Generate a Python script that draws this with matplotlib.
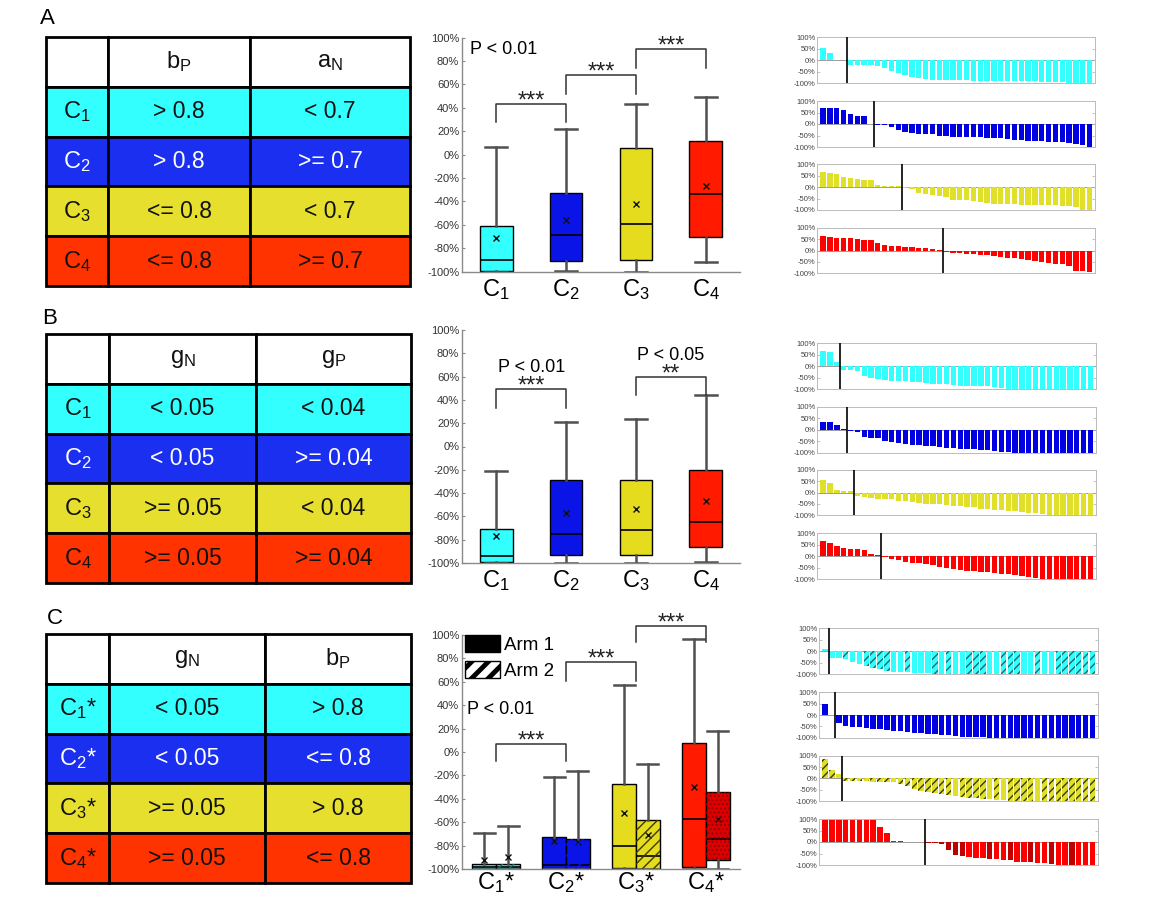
import numpy as np
import matplotlib
matplotlib.use('Agg')
import matplotlib.pyplot as plt
from matplotlib.patches import Rectangle, Patch, PathPatch

plt.rcParams['font.family'] = ['Liberation Sans', 'DejaVu Sans']
plt.rcParams['mathtext.fontset'] = 'custom'
plt.rcParams['mathtext.rm'] = 'Liberation Sans'
plt.rcParams['mathtext.it'] = 'Liberation Sans'
plt.rcParams['mathtext.default'] = 'regular'
plt.rcParams['hatch.linewidth'] = 1.0

# ---------------- data ----------------
table_colors = ['#33ffff', '#1a2ff0', '#e6df2e', '#ff3300']
box_colors = ['#33ffff', '#0a14e6', '#e6dc1e', '#ff1a00']
wf_colors = ['#33ffff', '#0000e0', '#e0e02a', '#ff0000']
row_text_colors = ['#111111', 'white', '#111111', '#111111']

headers_A = ['$b_P$', '$a_N$']
labels_A = ['$C_1$', '$C_2$', '$C_3$', '$C_4$']
cells_A = [['> 0.8', '< 0.7'], ['> 0.8', '>= 0.7'], ['<= 0.8', '< 0.7'], ['<= 0.8', '>= 0.7']]

headers_B = ['$g_N$', '$g_P$']
labels_B = ['$C_1$', '$C_2$', '$C_3$', '$C_4$']
cells_B = [['< 0.05', '< 0.04'], ['< 0.05', '>= 0.04'], ['>= 0.05', '< 0.04'], ['>= 0.05', '>= 0.04']]

headers_C = ['$g_N$', '$b_P$']
labels_C = ['$C_1$*', '$C_2$*', '$C_3$*', '$C_4$*']
cells_C = [['< 0.05', '> 0.8'], ['< 0.05', '<= 0.8'], ['>= 0.05', '> 0.8'], ['>= 0.05', '<= 0.8']]

# box plot summaries (percent change)
A_low = [-100, -99, -100, -92]
A_q1 = [-99, -91, -90, -70]
A_med = [-90, -69, -59, -34]
A_q3 = [-61, -33, 6, 12]
A_high = [7, 22, 43, 49]
A_mean = [-71, -56, -42, -27]

B_low = [-100, -100, -100, -99]
B_q1 = [-99, -93, -93, -86]
B_med = [-94, -75, -72, -65]
B_q3 = [-71, -29, -29, -20]
B_high = [-21, 21, 24, 44]
B_mean = [-77, -57, -54, -47]

# arm 1 / arm 2 for panel C
C1_low = [-100, -100, -100, -100]
C1_q1 = [-100, -100, -99, -98]
C1_med = [-98, -97, -80, -57]
C1_q3 = [-96, -73, -27, 8]
C1_high = [-69, -21, 57, 97]
C1_mean = [-92, -76, -52, -30]

C2_low = [-100, -100, -100, -100]
C2_q1 = [-100, -100, -100, -92]
C2_med = [-98, -97, -89, -74]
C2_q3 = [-96, -74, -58, -34]
C2_high = [-63, -16, -10, 18]
C2_mean = [-90, -77, -71, -57]

# significance brackets: (left group, right group, top, left leg end, right leg end, stars)
sig_A = [(1, 2, 43, 28, 28, '***'), (2, 3, 68, 52, 52, '***'), (3, 4, 90, 74, 74, '***')]
sig_B = [(1, 2, 49, 33, 33, '***'), (3, 4, 60, 44, 44, '**')]
sig_C = [(1, 2, 7, -8, -8, '***'), (2, 3, 77, 61, 61, '***'), (3, 4, 108, 94, 94, '***')]

# waterfall series (best response per patient, %)
wf_A = [
    [55, 30, 2, 1, -20, -20, -20, -22, -25, -35, -45, -55, -65, -72, -78, -82, -85, -85, -85, -85,
     -85, -85, -88, -88, -88, -88, -90, -90, -90, -92, -92, -92, -95, -95, -95, -95, -98, -98, -100, -100],
    [70, 70, 68, 60, 45, 33, 33, 1, -5, -5, -15, -28, -33, -40, -42, -42, -45, -50, -52, -55,
     -55, -56, -57, -58, -60, -62, -63, -65, -68, -70, -72, -75, -75, -78, -78, -80, -82, -85, -90, -98],
    [65, 62, 58, 45, 40, 35, 30, 30, 8, 7, 6, 4, -3, -8, -25, -28, -35, -40, -42, -55,
     -55, -58, -60, -65, -70, -72, -75, -75, -75, -78, -78, -78, -80, -80, -80, -82, -82, -85, -100, -100],
    [62, 58, 55, 55, 55, 52, 48, 45, 35, 25, 20, 18, 15, 15, 12, 10, 6, 3, -8, -10,
     -12, -15, -15, -18, -20, -25, -30, -32, -35, -38, -42, -45, -50, -55, -58, -60, -70, -88, -92, -95],
]
wf_B = [
    [65, 62, 20, -15, -15, -20, -40, -50, -55, -60, -62, -62, -65, -68, -70, -72, -75, -75, -78, -80,
     -85, -85, -85, -85, -85, -90, -95, -100, -100, -100, -100, -100, -100, -100, -100, -100, -100, -100, -100, -100],
    [32, 32, 22, 5, -5, -12, -30, -35, -35, -50, -55, -58, -60, -65, -68, -70, -72, -75, -78, -80,
     -82, -85, -85, -88, -90, -92, -95, -98, -100, -100, -100, -100, -100, -100, -100, -100, -100, -100, -100, -100],
    [58, 42, 12, 8, 8, -15, -20, -25, -28, -30, -30, -35, -38, -40, -45, -48, -50, -52, -55, -58,
     -60, -62, -65, -70, -72, -75, -78, -80, -82, -85, -88, -90, -95, -100, -100, -100, -100, -100, -100, -100],
    [65, 60, 45, 35, 33, 30, 28, 8, 5, -5, -10, -15, -25, -28, -30, -35, -38, -45, -50, -55,
     -60, -62, -65, -68, -70, -72, -75, -78, -80, -85, -90, -95, -100, -100, -100, -100, -100, -100, -100, -100],
]
wf_C = [
    [8, -30, -30, -35, -45, -55, -65, -72, -78, -85, -88, -90, -92, -95, -95, -95, -97, -97, -98, -98,
     -100, -100, -100, -100, -100, -100, -100, -100, -100, -100, -100, -100, -100, -100, -100, -100, -100, -100, -100, -100],
    [50, 2, -35, -50, -52, -55, -58, -60, -62, -68, -70, -72, -75, -78, -80, -82, -85, -88, -90, -92,
     -95, -95, -98, -98, -100, -100, -100, -100, -100, -100, -100, -100, -100, -100, -100, -100, -100, -100, -100, -100],
    [85, 35, 20, -10, -12, -12, -12, -15, -15, -15, -18, -25, -35, -45, -55, -62, -65, -70, -75, -80,
     -82, -85, -88, -90, -92, -95, -95, -98, -98, -100, -100, -100, -100, -100, -100, -100, -100, -100, -100, -100],
    [100, 100, 100, 100, 100, 100, 100, 100, 65, 38, 5, 3, 2, 1, 1, -3, -5, -8, -35, -55,
     -60, -65, -68, -70, -72, -75, -78, -80, -85, -88, -88, -90, -92, -95, -98, -100, -100, -100, -100, -100],
]
# indices of arm 2 patients in panel C waterfalls
arm2_C = [
    [3, 6, 7, 8, 9, 12, 16, 18, 21, 22, 23, 26, 27, 28, 31, 34, 35, 36, 37, 38, 39],
    [],
    [0, 1, 3, 4, 5, 6, 7, 8, 9, 11, 12, 13, 14, 15, 16, 17, 18, 20, 21, 22, 23, 25, 27, 28, 29, 30,
     32, 33, 34, 35, 36, 37, 38, 39],
    [15, 16, 17, 18, 19, 20, 24, 27, 30, 33, 36],
]

yticks_box = np.arange(-100, 101, 20)
yticks_wf = [-100, -50, 0, 50, 100]

# ---------------- figure ----------------
W, H = 1158, 900
fig = plt.figure(figsize=(W / 100, H / 100), dpi=100)


def px_axes(x0, y0, x1, y1):
    return fig.add_axes([x0 / W, 1 - y1 / H, (x1 - x0) / W, (y1 - y0) / H])


def draw_table(rect, col_edges, headers, labels, cells):
    ax = px_axes(*rect)
    ax.set_xlim(0, 1)
    ax.set_ylim(5, 0)
    ax.axis('off')
    for r in range(5):
        for c in range(3):
            fc = 'white' if r == 0 else table_colors[r - 1]
            ax.add_patch(Rectangle((col_edges[c], r), col_edges[c + 1] - col_edges[c], 1,
                                   facecolor=fc, edgecolor='black', lw=2, clip_on=False))
            xc = (col_edges[c] + col_edges[c + 1]) / 2
            if r == 0:
                txt = '' if c == 0 else headers[c - 1]
                col = '#111111'
            else:
                txt = labels[r - 1] if c == 0 else cells[r - 1][c - 1]
                col = row_text_colors[r - 1]
            fs = 17 if (c == 0 or r == 0) else 16.5
            ax.text(xc, r + 0.5, txt, ha='center', va='center', fontsize=fs, color=col)


draw_table((46, 37, 410, 286), [0, 0.170, 0.561, 1], headers_A, labels_A, cells_A)
draw_table((46, 334, 411, 583), [0, 0.173, 0.575, 1], headers_B, labels_B, cells_B)
draw_table((46, 634, 411, 883), [0, 0.173, 0.601, 1], headers_C, labels_C, cells_C)

fig.text(47 / W, 1 - 19 / H, 'A', ha='center', va='center', fontsize=16)
fig.text(50 / W, 1 - 318 / H, 'B', ha='center', va='center', fontsize=16)
fig.text(55 / W, 1 - 618 / H, 'C', ha='center', va='center', fontsize=16)


def style_box_axes(ax, xlabels, pad=4):
    ax.set_xlim(0.51, 4.49)
    ax.set_ylim(-100, 100)
    for s in ['top', 'right']:
        ax.spines[s].set_visible(False)
    for s in ['left', 'bottom']:
        ax.spines[s].set_color('#8a8a8a')
        ax.spines[s].set_linewidth(1.0)
    ax.set_yticks(yticks_box)
    ax.set_yticklabels([f'{v}%' for v in yticks_box])
    ax.tick_params(axis='y', direction='in', length=2, labelsize=8, colors='#8a8a8a',
                   labelcolor='#333333', pad=2)
    ax.set_xticks([1, 2, 3, 4])
    ax.set_xticklabels(xlabels)
    ax.tick_params(axis='x', length=0, labelsize=17, pad=pad)


def draw_sig(ax, sig):
    for x1, x2, top, l1, l2, stars in sig:
        ax.plot([x1, x1, x2, x2], [l1, top, top, l2], color='#333333', lw=1.1, clip_on=False)
        ax.text((x1 + x2) / 2, top - 3, stars, ha='center', va='baseline', fontsize=17,
                color='#222222', clip_on=False)


def make_stats(low, q1, med, q3, high, mean):
    return [dict(whislo=a, q1=b, med=c, q3=d, whishi=e, mean=f, fliers=[])
            for a, b, c, d, e, f in zip(low, q1, med, q3, high, mean)]


box_kw = dict(patch_artist=True, showmeans=True, showfliers=False,
              boxprops=dict(edgecolor='black', lw=1),
              medianprops=dict(color='black', lw=1.2),
              whiskerprops=dict(color='#505050', lw=1.8),
              capprops=dict(color='#505050', lw=1.8),
              meanprops=dict(marker='x', markeredgecolor='#111111', markersize=4.5, markeredgewidth=1.0))

positions = np.array([1, 2, 3, 4])

# box A
axA = px_axes(462, 37.7, 740, 271.7)
bp = axA.bxp(make_stats(A_low, A_q1, A_med, A_q3, A_high, A_mean), positions=positions,
             widths=0.47, capwidths=0.32, **box_kw)
for b, c in zip(bp['boxes'], box_colors):
    b.set_facecolor(c)
style_box_axes(axA, labels_A)
draw_sig(axA, sig_A)
axA.text(0.62, 90, 'P < 0.01', ha='left', va='center', fontsize=13)

# box B
axB = px_axes(462, 330, 740, 563)
bp = axB.bxp(make_stats(B_low, B_q1, B_med, B_q3, B_high, B_mean), positions=positions,
             widths=0.47, capwidths=0.32, **box_kw)
for b, c in zip(bp['boxes'], box_colors):
    b.set_facecolor(c)
style_box_axes(axB, labels_B)
draw_sig(axB, sig_B)
axB.text(1.5, 68, 'P < 0.01', ha='center', va='center', fontsize=13)
axB.text(3.5, 78, 'P < 0.05', ha='center', va='center', fontsize=13)

# box C (two arms)
axC = px_axes(462, 635, 740, 869)
off = 0.17
bp1 = axC.bxp(make_stats(C1_low, C1_q1, C1_med, C1_q3, C1_high, C1_mean), positions=positions - off,
              widths=0.34, capwidths=0.3, **box_kw)
bp2 = axC.bxp(make_stats(C2_low, C2_q1, C2_med, C2_q3, C2_high, C2_mean), positions=positions + off,
              widths=0.34, capwidths=0.3, **box_kw)
arm2_fill = ['#33ffff', '#0a14e6', '#e6dc1e', '#dd0000']
arm2_hatch_col = ['#1a6b6b', '#0a14e6', '#3a3a00', '#990000']
arm2_hatch = ['///', '///', '///', '....']
for b, c in zip(bp1['boxes'], box_colors):
    b.set_facecolor(c)
for b, c, hc, h in zip(bp2['boxes'], arm2_fill, arm2_hatch_col, arm2_hatch):
    b.set_facecolor(c)
    axC.add_patch(PathPatch(b.get_path(), transform=b.get_transform(), facecolor='none',
                            edgecolor=hc, hatch=h, lw=0, zorder=b.get_zorder() + 0.1))
style_box_axes(axC, labels_C, pad=1)
draw_sig(axC, sig_C)
axC.text(0.58, 36, 'P < 0.01', ha='left', va='center', fontsize=13)
leg = axC.legend(handles=[Patch(facecolor='black', edgecolor='black', label='Arm 1'),
                          Patch(facecolor='white', edgecolor='black', hatch='//', label='Arm 2')],
                 loc='upper left', bbox_to_anchor=(0.012, 1.0), frameon=False, fontsize=13.5,
                 handlelength=1.85, handleheight=1.05, handletextpad=0.2, labelspacing=0.35,
                 borderaxespad=0, borderpad=0)
for p in leg.get_patches():
    if hasattr(p, 'set_hatch_linewidth'):
        p.set_hatch_linewidth(3.5)


# waterfalls
def draw_waterfall(rect, values, color, arm2=None, arm2_color=None, hatch_col=None, hatch=None):
    ax = px_axes(*rect)
    x = np.arange(len(values))
    ax.axhline(0, color='#8c8c8c', lw=0.6, zorder=1)
    bars = ax.bar(x, values, width=0.78, color=color, lw=0, zorder=2)
    for i in (arm2 or []):
        if arm2_color is not None:
            bars[i].set_facecolor(arm2_color)
        if hatch is not None:
            bars[i].set_hatch(hatch)
            bars[i].set_edgecolor(hatch_col)
    split = int(np.argmax(np.asarray(values) < 0)) - 0.5
    ax.axvline(split, color='black', lw=1.2, zorder=3)
    ax.set_xlim(-0.9, len(values) - 0.2)
    ax.set_ylim(-100, 100)
    ax.set_xticks([])
    ax.set_yticks(yticks_wf)
    ax.set_yticklabels([f'{v}%' for v in yticks_wf])
    ax.tick_params(axis='y', direction='in', length=2, width=0.5, labelsize=5.5, colors='#aaaaaa',
                   labelcolor='#444444', pad=1, right=True)
    for s in ax.spines.values():
        s.set_color('#bbbbbb')
        s.set_linewidth(0.7)
    return ax


rows_A = [(37.3, 83.3), (101, 147), (164.3, 210), (227.7, 273.3)]
rows_B = [(343.3, 389.3), (406.7, 452.7), (470, 515.3), (533.3, 579.3)]
rows_C = [(628.3, 674.3), (692.3, 737.7), (755.7, 801), (819, 865)]

for (y0, y1), vals, col in zip(rows_A, wf_A, wf_colors):
    draw_waterfall((817, y0, 1095, y1), vals, col)
for (y0, y1), vals, col in zip(rows_B, wf_B, wf_colors):
    draw_waterfall((817, y0, 1096, y1), vals, col)
wf_arm2_color = [None, None, None, '#c00000']
wf_hatch = ['////', '////', '////', None]
wf_hatch_col = ['#1a6b6b', '#000080', '#3a3a00', None]
for k, ((y0, y1), vals, col) in enumerate(zip(rows_C, wf_C, wf_colors)):
    draw_waterfall((819, y0, 1098, y1), vals, col, arm2=arm2_C[k], arm2_color=wf_arm2_color[k],
                   hatch_col=wf_hatch_col[k], hatch=wf_hatch[k])

fig.savefig('out.png', dpi=100, facecolor='white')
